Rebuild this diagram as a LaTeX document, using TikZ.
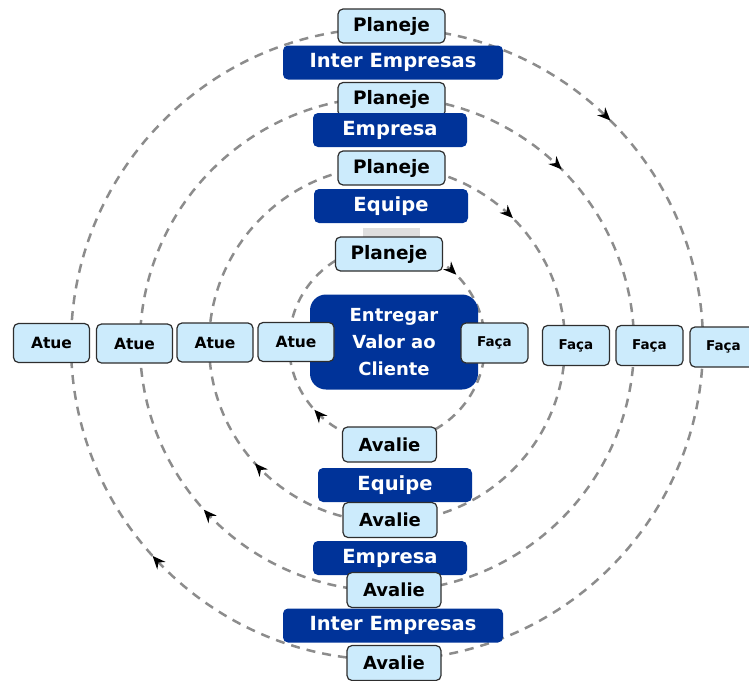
\documentclass[tikz,border=0pt]{standalone}
\usepackage{fontspec}
\setmainfont{DejaVu Sans}
\usetikzlibrary{arrows.meta,decorations.markings}
\definecolor{navy}{HTML}{003399}
\definecolor{paleblue}{HTML}{CCEBFC}
\definecolor{edge}{HTML}{2E2E2E}
\definecolor{ring}{HTML}{8C8C8C}
\tikzset{
  ringline/.style={draw=ring, line width=2.5pt, dash pattern=on 9pt off 7pt,
    postaction={decorate}, decoration={markings,
      mark=at position 0.125 with {\arrowreversed[black]{Stealth[length=13pt,width=11pt]}},
      mark=at position 0.617 with {\arrowreversed[black]{Stealth[length=13pt,width=11pt]}}}},
  stepbox/.style={draw=edge, line width=1.2pt, fill=paleblue, rounded corners=5pt,
    inner sep=0pt, font=\bfseries, text=black},
  levelbox/.style={fill=navy, rounded corners=5pt, inner sep=0pt,
    font=\bfseries\fontsize{19.5}{22}\selectfont, text=white,
    minimum height=34pt},
  goalbox/.style={fill=navy, rounded corners=16pt, inner sep=0pt, align=center,
    font=\bfseries\fontsize{18}{27}\selectfont, text=white,
    minimum width=168pt, minimum height=95pt},
  plan/.style={stepbox, minimum width=107pt, minimum height=34pt, font=\bfseries\fontsize{18.5}{20}\selectfont},
  act/.style={stepbox, minimum width=76pt, minimum height=39pt, font=\bfseries\fontsize{15.5}{17}\selectfont},
  do/.style={stepbox, minimum width=67pt, minimum height=40pt, font=\bfseries\fontsize{13.5}{15}\selectfont},
  check/.style={stepbox, minimum width=94pt, minimum height=35pt, font=\bfseries\fontsize{18}{19}\selectfont},
}
\begin{document}
\begin{tikzpicture}[x=1pt,y=-1pt]
\useasboundingbox (0,0) rectangle (749,680);

% concentric PDCA cycles, clockwise
\coordinate (hub) at (387,344);
\foreach \r in {98,178,247,316}
  \path[ringline] (hub) circle[radius=\r pt];

% top: planning stage of each level
\node[plan] (plan4) at (391.5,26) {Planeje};
\node[levelbox, minimum width=220pt] (inter1) at (393,62.5) {Inter Empresas};
\node[plan] (plan3) at (391.5,99.5) {Planeje};
\node[levelbox, minimum width=154pt] (emp1) at (390,130) {Empresa};
\node[plan] (plan2) at (391.5,168) {Planeje};
\node[levelbox, minimum width=154pt] (team1) at (391,206) {Equipe};
\node[fill=black!13, inner sep=0pt, minimum width=57pt, minimum height=9pt] (shade) at (391.5,232.5) {};
\node[plan] (plan1) at (389,254) {Planeje};

% centre goal
\node[goalbox] (goal) at (394,342) {Entregar\\Valor ao\\Cliente};

% left: act
\node[act] (act4) at (51.5,343) {Atue};
\node[act] (act3) at (134.5,343.5) {Atue};
\node[act] (act2) at (215,342.5) {Atue};
\node[act] (act1) at (296,342) {Atue};

% right: do
\node[do] (do1) at (494.5,343) {Faça};
\node[do] (do2) at (576,345.5) {Faça};
\node[do] (do3) at (649.5,345.5) {Faça};
\node[do] (do4) at (723.5,347) {Faça};

% bottom: check stage of each level
\node[check] (check1) at (389.5,444.5) {Avalie};
\node[levelbox, minimum width=154pt] (team2) at (395,485) {Equipe};
\node[check] (check2) at (390,520) {Avalie};
\node[levelbox, minimum width=154pt] (emp2) at (390,558) {Empresa};
\node[check] (check3) at (394,590) {Avalie};
\node[levelbox, minimum width=220pt] (inter2) at (393,625.5) {Inter Empresas};
\node[check] (check4) at (394,663) {Avalie};
\end{tikzpicture}
\end{document}
